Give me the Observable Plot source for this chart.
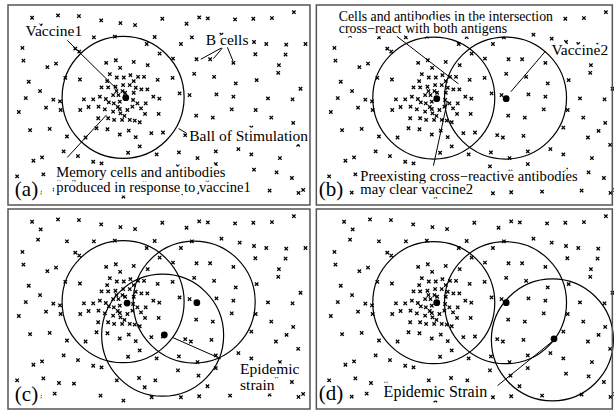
<!DOCTYPE html>
<html><head><meta charset="utf-8">
<script src="https://cdn.jsdelivr.net/npm/d3@7"></script>
<script src="https://cdn.jsdelivr.net/npm/@observablehq/plot@0.6"></script>
<style>body{margin:0;background:#fff}</style>
</head><body><div id="chart"></div>
<script>
// Panels of the figure
const panels = ["a", "b", "c", "d"];

// B cells in shape space (same layout in every panel)
const cellX = [92,170,233,300,358,402,484,557,595,621,703,758,814,880,
  118,
  110,197,278,341,461,437,540,573,662,717,760,797,857,915,
  63,222,234,476,764,855,
  66,138,164,516,587,628,698,835,833,
  82,192,236,470,515,580,640,705,768,900,
  116,73,156,176,248,276,536,566,647,698,802,876,
  52,134,178,237,586,636,693,765,812,878,
  86,145,197,253,752,553,570,632,826,858,893,
  187,230,381,467,534,590,645,713,752,838,
  96,122,276,301,645,
  126,173,218,347,414,463,531,593,620,47,431,760,828,874,
  452,540,595,298,367,160,115,688,807,894,908,
  // memory cells around vaccine 1
  315,344,398,357,440,
  326,347,368,388,411,429,
  301,321,343,366,386,404,421,439,457,475,
  296,314,336,352,323,338,356,396,409,434,
  292,311,336,356,379,394,358,
  291,321,339,363,386,401,416,432,473,
  319,286,356,383,404,416,451,486,
  364,346,372,398,350,420,370,262,318,398];
const cellY = [49,42,44,57,65,71,52,67,48,51,54,52,50,32,
  72,
  103,108,108,106,107,128,128,108,100,112,122,128,130,128,
  140,142,151,157,159,160,
  178,198,187,172,174,174,185,192,215,
  242,230,235,236,230,218,227,247,237,263,
  270,291,296,301,295,295,277,282,280,287,292,295,
  333,320,327,327,344,350,325,327,350,366,
  388,384,407,410,380,403,410,405,410,390,432,
  452,466,456,461,455,472,452,445,461,472,
  480,470,483,488,490,
  521,535,537,527,520,527,497,513,545,527,548,507,515,532,
  578,578,575,573,588,567,576,573,570,577,568,
  185,177,182,200,192,
  219,229,229,222,227,227,
  259,259,257,252,252,260,265,265,287,293,
  287,294,282,282,304,307,302,297,307,307,
  317,325,332,324,327,317,337,
  352,352,357,357,357,359,364,339,339,
  385,382,401,389,409,437,397,395,
  270,270,275,275,318,322,345,318,240,240];

// Balls of stimulation (centre) and the radius, in shape-space units
const ballPanel = ["a", "b", "b", "c", "c", "c", "d", "d", "d"];
const ballX = [366, 362, 578, 366, 580, 485, 362, 578, 719];
const ballY = [289, 291, 291, 290, 291, 391, 293, 293, 405];
const ballRadius = 183;

// Antigens (vaccines / epidemic strain)
const antigenPanel = ["a", "b", "b", "c", "c", "c", "d", "d", "d"];
const antigenX = [374, 371, 580, 378, 588, 490, 371, 580, 724];
const antigenY = [290, 293, 293, 294, 293, 390, 293, 293, 402];

// Panel borders in shape-space units
const borderX1 = [21, 10, 21, 10];
const borderX2 = [930, 901, 930, 901];
const borderY1 = [12, 12, 12, 12];
const borderY2 = [615, 615, 615, 615];

// Leader lines of the annotations
const leaderPanel = ["a", "a", "a", "a", "a", "a", "b", "b", "b", "c", "d"];
const leaderX1 = [198, 662, 665, 680, 533, 198, 251, 698, 361, 515, 554];
const leaderY1 = [117, 140, 140, 138, 383, 470, 105, 150, 495, 398, 543];
const leaderX2 = [349, 600, 638, 697, 557, 316, 436, 594, 403, 660, 721];
const leaderY2 = [266, 174, 172, 180, 397, 342, 248, 272, 300, 462, 408];

// Text annotations
const labelPanel = ["a", "a", "a", "a", "b", "b", "b", "c", "d"];
const labelText = ["Vaccine1", "B cells", "Ball of Stimulation",
  "Memory cells and antibodies\nproduced in response to vaccine1",
  "Cells and antibodies in the intersection\ncross\u2212react with both antigens",
  "Vaccine2", "Preexisting cross\u2212reactive antibodies\nmay clear vaccine2",
  "Epidemic\nstrain", "Epidemic Strain"];
const labelKind = ["plain", "plain", "plain", "memory", "cross", "plain", "preexist", "epidemic", "strain"];
const labelX = [72, 615, 565, 165, 76, 716, 141, 718, 211];
const labelY = [103, 130, 422, 575, 96, 160, 581, 556, 578];

// Panel tags
const tagText = ["(a)", "(b)", "(c)", "(d)"];
const tagX = [40, 16, 40, 16];
const tagY = [585, 585, 588, 585];

// ---- layout ----
const W = 614, H = 413, mL = 7, mR = 0, mT = 4, mB = 3;
const padX = 0.0607, padY = 0.0195;
const xDom = [21, 903], yDom = [12, 615];
const bandW = (W - mL - mR) / (2 - padX) * (1 - padX);
const rPx = ballRadius * bandW / (xDom[1] - xDom[0]);
const serif = "Liberation Serif";

const col = p => (panels.indexOf(p) % 2 === 0 ? "left" : "right");
const row = p => (panels.indexOf(p) < 2 ? "top" : "bottom");

const cells = panels.flatMap(p => cellX.map((x, i) => ({panel: p, x, y: cellY[i]})));
const balls = ballPanel.map((p, i) => ({panel: p, x: ballX[i], y: ballY[i]}));
const antigens = antigenPanel.map((p, i) => ({panel: p, x: antigenX[i], y: antigenY[i]}));
const borders = panels.map((p, i) => ({panel: p, x1: borderX1[i], x2: borderX2[i], y1: borderY1[i], y2: borderY2[i]}));
const leaders = leaderPanel.map((p, i) => ({panel: p, x1: leaderX1[i], y1: leaderY1[i], x2: leaderX2[i], y2: leaderY2[i]}));
const labels = labelPanel.map((p, i) => ({panel: p, text: labelText[i], kind: labelKind[i], x: labelX[i], y: labelY[i]}));
const tags = panels.map((p, i) => ({panel: p, text: tagText[i], x: tagX[i], y: tagY[i]}));

const F = {fx: d => col(d.panel), fy: d => row(d.panel)};
const textOpts = {x: "x", y: "y", text: "text", textAnchor: "start", lineAnchor: "bottom",
  fontFamily: serif, fill: "black", stroke: "white", strokeWidth: 7,
  paintOrder: "stroke", strokeLinejoin: "round", ...F};
const styles = {
  plain: {fontSize: 15.5, lineHeight: 1},
  memory: {fontSize: 14.6, lineHeight: 1.03},
  cross: {fontSize: 13.8, lineHeight: 0.92},
  preexist: {fontSize: 14.6, lineHeight: 0.89},
  epidemic: {fontSize: 15.5, lineHeight: 1.03},
  strain: {fontSize: 16, lineHeight: 1}
};

const chart = Plot.plot({
  width: W, height: H,
  marginLeft: mL, marginRight: mR, marginTop: mT, marginBottom: mB,
  x: {domain: xDom, axis: null},
  y: {domain: yDom, reverse: true, axis: null},
  fx: {domain: ["left", "right"], axis: null, paddingInner: padX, paddingOuter: 0},
  fy: {domain: ["top", "bottom"], axis: null, paddingInner: padY, paddingOuter: 0},
  style: {fontFamily: serif, background: "white"},
  marks: [
    Plot.dot(cells, {x: "x", y: "y", symbol: "times", r: 1.7, stroke: "black", strokeWidth: 1.3, ...F}),
    ...Object.keys(styles).map(k =>
      Plot.text(labels.filter(d => d.kind === k), {...textOpts, ...styles[k]})),
    Plot.text(tags, {...textOpts, fontSize: 21}),
    Plot.dot(balls, {x: "x", y: "y", r: rPx, fill: "none", stroke: "black", strokeWidth: 1.2, ...F}),
    Plot.link(leaders, {x1: "x1", y1: "y1", x2: "x2", y2: "y2", stroke: "black", strokeWidth: 1, ...F}),
    Plot.dot(antigens, {x: "x", y: "y", r: 3.4, fill: "black", ...F}),
    Plot.rect(borders, {x1: "x1", x2: "x2", y1: "y1", y2: "y2", fill: "none", stroke: "#555", strokeWidth: 1.5, ...F})
  ]
});
document.getElementById("chart").appendChild(chart);
</script>
</body></html>
